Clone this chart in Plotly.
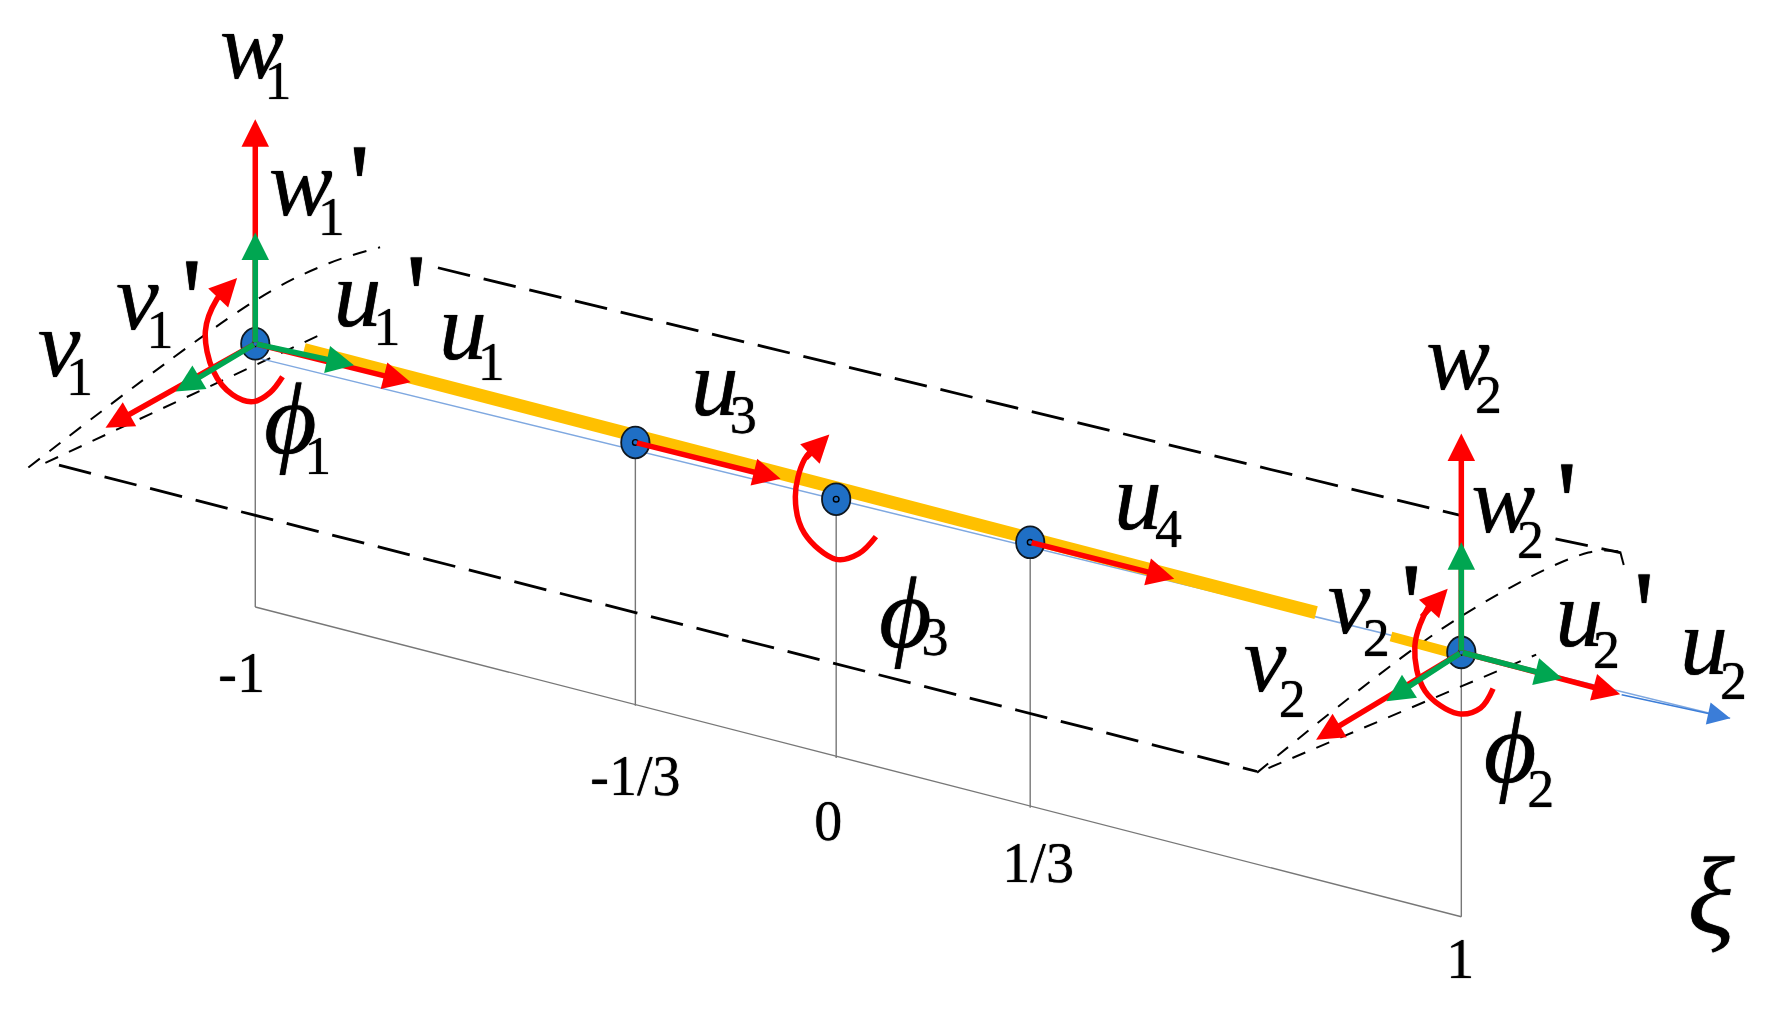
import plotly.graph_objects as go

# diagram coordinates (x right, y down)
NODE_X = [225, 560, 737, 908, 1288]
NODE_Y = [303, 390, 440, 478, 575]

GOLD_A_X = [268, 1160]
GOLD_A_Y = [308, 540]
GOLD_B_X = [1226, 1285]
GOLD_B_Y = [561, 577]

BASE_X = [225, 1288]
BASE_Y = [535, 808]
DROP_TOP_X = [225, 560, 737, 908, 1288]
DROP_TOP_Y = [303, 390, 440, 478, 575]
DROP_BOT_Y = [535, 622, 668, 712, 808]

BLUE_X = [225, 1525]
BLUE_Y = [315, 633]

THICK_DASH = [
    ([52, 1108], [410, 680]),
    ([386, 1290], [236, 455]),
    ([1371, 1428], [475, 487]),
]
THIN_DASH = [
    ([25, 228, 290, 335], [412, 263, 232, 218]),
    ([40, 289], [408, 292]),
    ([1108, 1285, 1400, 1428], [681, 545, 487, 486]),
    ([1118, 1354], [677, 577]),
    ([1428, 1433], [486, 505]),
]

ARC_1_X = [249, 238, 223, 205, 188, 181, 191, 202]
ARC_1_Y = [332, 346, 354, 348, 327, 292, 264, 252]
ARC_3_X = [772, 757, 737, 709, 701, 709, 722]
ARC_3_Y = [473, 488, 493, 470, 438, 405, 391]
ARC_2_X = [1316, 1305, 1285, 1256, 1247, 1259, 1268]
ARC_2_Y = [607, 624, 629, 609, 570, 535, 526]

# tail x, tail y, tip x, tip y
RED_ARROWS = [
    (225, 303, 225, 105), (225, 303, 93, 377), (225, 303, 362, 337),
    (560, 390, 688, 422), (908, 478, 1035, 510),
    (1288, 575, 1288, 382), (1288, 575, 1160, 652), (1288, 575, 1428, 612),
]
ARC_ARROWS = [
    (191, 264, 209, 245), (709, 405, 731, 383), (1252, 545, 1276, 519),
]
GREEN_ARROWS = [
    (225, 303, 225, 205), (225, 303, 155, 345), (225, 303, 312, 322),
    (1288, 575, 1288, 478), (1288, 575, 1222, 618), (1288, 575, 1377, 598),
]

LETTERS = ["w", "w", "v", "v", "u", "u", "u", "u", "w", "w", "v", "v", "u", "u"]
LETTER_X = [222, 265, 121, 52, 315, 408, 630, 1003, 1285, 1325, 1189, 1115, 1392, 1502]
LETTER_Y = [48, 168, 269, 310, 266, 295, 345, 445, 322, 448, 537, 588, 548, 573]
SUBS = ["1", "1", "1", "1", "1", "1", "3", "4", "2", "2", "2", "2", "2", "2"]
SUB_X = [245, 292, 141, 70, 341, 433, 655, 1030, 1312, 1349, 1213, 1139, 1416, 1528]
SUB_Y = [75, 195, 295, 336, 292, 323, 370, 470, 352, 480, 566, 620, 577, 604]

PHI_X = [256, 798, 1331]
PHI_Y = [377, 548, 667]
PHI_SUB = ["1", "3", "2"]
PHI_SUB_X = [280, 824, 1358]
PHI_SUB_Y = [406, 565, 699]

PRIME_X = [317, 169, 367, 1381, 1244, 1449]
PRIME_Y = [174, 274, 271, 453, 543, 550]

TICK_LABELS = ["-1", "-1/3", "0", "1/3", "1"]
TICK_X = [213, 560, 730, 915, 1287]
TICK_Y = [598, 688, 728, 765, 850]

RED = "#FF0000"
GREEN = "#00A651"
GOLD = "#FFC000"
SERIF = "Liberation Serif"

fig = go.Figure()


def add_line(xs, ys, color, width, dash="solid", shape="linear"):
    fig.add_trace(go.Scatter(
        x=xs, y=ys, mode="lines", hoverinfo="skip",
        line=dict(color=color, width=width, dash=dash, shape=shape)
    ))


def add_text(texts, xs, ys, size, italic=True):
    fig.add_trace(go.Scatter(
        x=xs, y=ys, text=texts, mode="text", hoverinfo="skip",
        textposition="middle center",
        textfont=dict(family=SERIF, size=size, color="black",
                      style="italic" if italic else "normal",
                      shadow="0 0 1px #000000")
    ))


# projection lines
add_line(BASE_X, BASE_Y, "#777777", 1.4)
for x, top, bot in zip(DROP_TOP_X, DROP_TOP_Y, DROP_BOT_Y):
    add_line([x, x], [top, bot], "#777777", 1.4)

# dashed frames
for xs, ys in THICK_DASH:
    add_line(xs, ys, "black", 2.8, dash="33px,14px")
for xs, ys in THIN_DASH:
    add_line(xs, ys, "black", 2, dash="14px,12px", shape="spline")

# beam
add_line(BLUE_X, BLUE_Y, "#7FA8E0", 1.5)
add_line(GOLD_A_X, GOLD_A_Y, GOLD, 13)
add_line(GOLD_B_X, GOLD_B_Y, GOLD, 10)

# rotation arcs
for xs, ys in [(ARC_1_X, ARC_1_Y), (ARC_3_X, ARC_3_Y), (ARC_2_X, ARC_2_Y)]:
    add_line(xs, ys, RED, 5.5, shape="spline")

# nodes
for x, y in zip(NODE_X, NODE_Y):
    fig.add_shape(type="circle", x0=x - 12.5, x1=x + 12.5, y0=y - 14, y1=y + 14,
                  fillcolor="#1F6FC5", line=dict(color="#101820", width=1.8))
    fig.add_shape(type="circle", x0=x - 2.5, x1=x + 2.5, y0=y - 2.5, y1=y + 2.5,
                  fillcolor="#1F6FC5", line=dict(color="black", width=1.4))

# labels
add_text(LETTERS, LETTER_X, LETTER_Y, 96)
add_text(SUBS, SUB_X, SUB_Y, 54, italic=False)
add_text(["ϕ"] * 3, PHI_X, PHI_Y, 102)
add_text(PHI_SUB, PHI_SUB_X, PHI_SUB_Y, 54, italic=False)
add_text(["'"] * 6, PRIME_X, PRIME_Y, 120, italic=False)
add_text(["ξ"], [1508], [798], 110)
add_text(TICK_LABELS, TICK_X, TICK_Y, 56, italic=False)

# arrows
for arrows, color, width in [(RED_ARROWS, RED, 5.5), (ARC_ARROWS, RED, 5.5), (GREEN_ARROWS, GREEN, 5.5)]:
    for x0, y0, x1, y1 in arrows:
        fig.add_annotation(x=x1, y=y1, ax=x0, ay=y0, xref="x", yref="y",
                           axref="x", ayref="y", text="", showarrow=True,
                           arrowhead=2, arrowsize=1, arrowwidth=width,
                           arrowcolor=color, standoff=0)
fig.add_annotation(x=1525, y=633, ax=1428, ay=612, xref="x", yref="y",
                   axref="x", ayref="y", text="", showarrow=True,
                   arrowhead=2, arrowsize=3, arrowwidth=1.5,
                   arrowcolor="#3B7DD8", standoff=0)

fig.update_xaxes(visible=False, range=[0, 1568], fixedrange=True)
fig.update_yaxes(visible=False, range=[895.5, 0], fixedrange=True)
fig.update_layout(width=1779, height=1016, margin=dict(l=0, r=0, t=0, b=0),
                  plot_bgcolor="white", paper_bgcolor="white", showlegend=False)
fig.write_html("out.html", config={"displayModeBar": False},
               post_script="document.body.style.margin='0';")
